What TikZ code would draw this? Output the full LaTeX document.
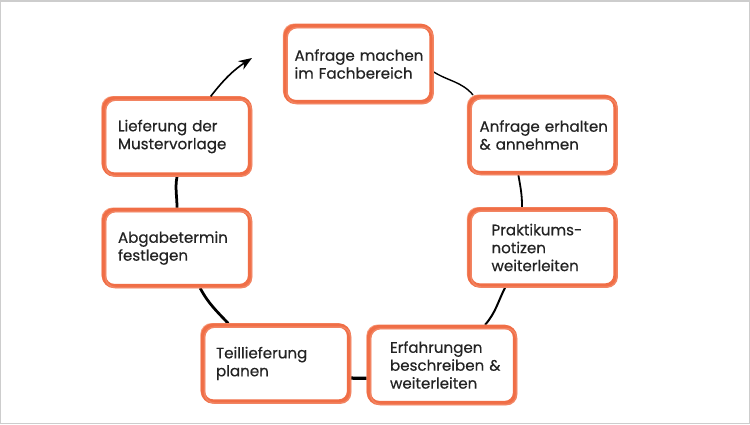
\documentclass[tikz,border=0pt]{standalone}
\usepackage{fontspec}
\setmainfont{Poppins}[FakeBold=0.35]
\usetikzlibrary{arrows.meta,backgrounds}
\definecolor{boxorange}{RGB}{240,110,70}
\definecolor{boxorangelight}{RGB}{247,160,130}
\definecolor{txt}{RGB}{35,35,35}
\definecolor{frame}{RGB}{205,205,205}
\tikzset{
  box/.style={rectangle, rounded corners=0.2cm, draw=boxorange, line width=0.085cm,
    fill=white, minimum width=2.92cm, minimum height=1.52cm, align=left,
    text=txt, font=\fontsize{8.6pt}{10.2pt}\selectfont, inner ysep=0pt,
    preaction={draw=boxorangelight, line width=0.05cm,
      transform canvas={shift={(-0.8pt,0.7pt)}}},
    postaction={draw=boxorange!85!white, line width=0.03cm,
      transform canvas={shift={(0.9pt,-0.9pt)}}}},
  conn/.style={draw=black, line width=#1},
  conn/.default=0.04cm
}
\begin{document}
\begin{tikzpicture}[x=0.02cm,y=0.02cm]
\useasboundingbox (0,0) rectangle (750,424);
\draw[frame, line width=0.03cm] (0.75,0.75) rectangle (749.25,423.25);

\node[box, inner xsep=0.18cm, text width=2.56cm] (b1) at (358.5,360) {\mbox{Anfrage machen}\\\mbox{im Fachbereich}};
\node[box, inner xsep=0.20cm, text width=2.52cm] (b2) at (542.5,289) {\mbox{Anfrage erhalten}\\\mbox{\& annehmen}};
\node[box, inner xsep=0.44cm, text width=2.04cm] (b3) at (542.5,176.5) {\mbox{Praktikums-}\\\mbox{notizen}\\\mbox{weiterleiten}};
\node[box, inner xsep=0.42cm, text width=2.08cm] (b4) at (442,59) {\mbox{Erfahrungen}\\\mbox{beschreiben \&}\\\mbox{weiterleiten}};
\node[box, inner xsep=0.26cm, text width=2.40cm] (b5) at (276,60.5) {\mbox{Teillieferung}\\\mbox{planen}};
\node[box, inner xsep=0.28cm, text width=2.36cm] (b6) at (177,176) {\mbox{Abgabetermin}\\\mbox{festlegen}};
\node[box, inner xsep=0.28cm, text width=2.36cm] (b7) at (177,287.5) {\mbox{Lieferung der}\\\mbox{Mustervorlage}};
\coordinate (arrowend) at (252,366);

\begin{scope}[on background layer]
\draw[conn=0.028cm] (b1.-6) to[out=-32, in=131] (b2.150);
\draw[conn=0.036cm] (b2.-121) to[out=-80, in=90] (b3.117);
\draw[conn=0.04cm] (b3.-133) to[out=-117, in=49] (b4.43);
\draw[conn=0.065cm] (b4.190) -- (b5.-11);
\draw[conn=0.055cm] (b5.140) to[out=133, in=-62] (b6.-60);
\draw[conn=0.055cm] (b6.north) to[out=90, in=-100] (b7.south);
\end{scope}
\draw[conn=0.032cm, -{Stealth[length=0.27cm, width=0.2cm]}] (b7.50) to[out=52, in=213] (arrowend);
\end{tikzpicture}
\end{document}
